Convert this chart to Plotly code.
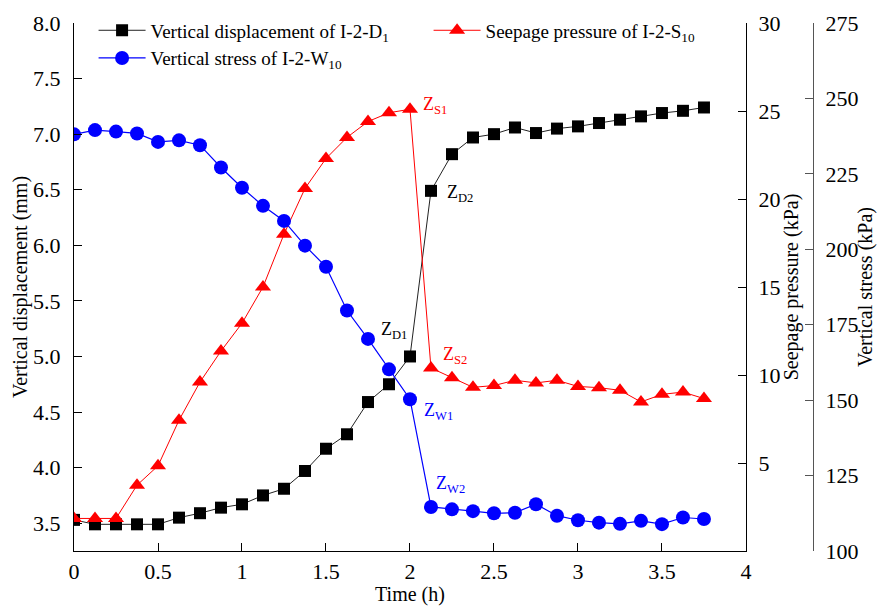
import plotly.graph_objects as go

time_h = [0, 0.125, 0.25, 0.375, 0.5, 0.625, 0.75, 0.875, 1.0, 1.125, 1.25, 1.375, 1.5, 1.625,
          1.75, 1.875, 2.0, 2.125, 2.25, 2.375, 2.5, 2.625, 2.75, 2.875, 3.0, 3.125, 3.25,
          3.375, 3.5, 3.625, 3.75]

displacement_mm = [3.53, 3.49, 3.49, 3.49, 3.49, 3.55, 3.59, 3.64, 3.67, 3.75, 3.81, 3.97, 4.17,
                   4.30, 4.59, 4.75, 5.00, 6.49, 6.82, 6.97, 7.00, 7.06, 7.01, 7.05, 7.07, 7.10,
                   7.13, 7.16, 7.19, 7.21, 7.24]

seepage_kpa = [1.85, 1.85, 1.85, 3.74, 4.84, 7.43, 9.6, 11.36, 12.94, 15.0, 18.0, 20.6, 22.3,
               23.5, 24.4, 24.9, 25.1, 10.4, 9.85, 9.3, 9.4, 9.7, 9.55, 9.7, 9.35, 9.28, 9.13,
               8.47, 8.9, 9.03, 8.66]

stress_kpa = [238.1, 239.5, 239.0, 238.4, 235.6, 236.1, 234.5, 227.1, 220.4, 214.4, 209.4, 201.2,
              194.2, 179.7, 170.3, 160.2, 150.3, 114.6, 113.8, 113.2, 112.5, 112.7, 115.5, 111.7,
              110.2, 109.4, 109.0, 110.0, 108.9, 111.1, 110.6]

names = ["Vertical displacement of I-2-D<sub>1</sub>",
         "Seepage pressure of I-2-S<sub>10</sub>",
         "Vertical stress of I-2-W<sub>10</sub>"]

x_ticks = [0, 0.5, 1, 1.5, 2, 2.5, 3, 3.5, 4]
y1_ticks = [3.5, 4.0, 4.5, 5.0, 5.5, 6.0, 6.5, 7.0, 7.5, 8.0]
y2_ticks = [5, 10, 15, 20, 25, 30]
y3_ticks = [100, 125, 150, 175, 200, 225, 250, 275]

FONT = "Liberation Serif"
TICKF = dict(family=FONT, size=22, color="black")
TITLEF = dict(family=FONT, size=20, color="black")

fig = go.Figure()
fig.add_trace(go.Scatter(x=time_h, y=displacement_mm, name=names[0], mode="lines+markers",
                         line=dict(color="#222222", width=1),
                         marker=dict(symbol="square", size=12, color="black"), yaxis="y"))
fig.add_trace(go.Scatter(x=time_h, y=seepage_kpa, name=names[1], mode="lines+markers",
                         line=dict(color="#ff0000", width=1),
                         marker=dict(symbol="triangle-up", size=14, color="#ff0000"), yaxis="y2"))
fig.add_trace(go.Scatter(x=time_h, y=stress_kpa, name=names[2], mode="lines+markers",
                         line=dict(color="#0000ff", width=1.2),
                         marker=dict(symbol="circle", size=14, color="#0000ff"), yaxis="y3"))

axis_common = dict(showgrid=False, zeroline=False, showline=True, linewidth=1.2,
                   ticks="inside", ticklen=8, tickwidth=1.2, tickfont=TICKF,
                   automargin=False)

fig.update_layout(
    width=877, height=606,
    margin=dict(l=74, r=20, t=22, b=55),
    paper_bgcolor="white", plot_bgcolor="white",
    font=dict(family=FONT, color="black"),
    showlegend=True,
    legend=dict(orientation="h", x=0.025, y=1.02, xanchor="left", yanchor="top",
                entrywidth=273, entrywidthmode="pixels", itemwidth=47,
                font=dict(family=FONT, size=19, color="black"),
                bgcolor="rgba(0,0,0,0)", traceorder="normal"),
    xaxis=dict(domain=[0, 0.8582], range=[0, 4], tickvals=x_ticks,
               linecolor="black", tickcolor="black", ticklabelstandoff=0,
               title=dict(text="Time (h)", font=TITLEF, standoff=9), **axis_common),
    yaxis=dict(range=[3.25, 8.0], tickvals=y1_ticks, tickformat=".1f",
               linecolor="black", tickcolor="black", ticklabelstandoff=8,
               title=dict(text="Vertical displacement (mm)", font=TITLEF, standoff=0),
               **axis_common),
    yaxis2=dict(range=[0, 30], tickvals=y2_ticks, overlaying="y", side="right", anchor="x",
                linecolor="black", tickcolor="black", ticklabelstandoff=7,
                title=dict(text="Seepage pressure (kPa)", font=TITLEF, standoff=0),
                **axis_common),
    yaxis3=dict(range=[100, 275], tickvals=y3_ticks, overlaying="y", side="right",
                anchor="free", position=0.9438,
                linecolor="#555555", tickcolor="#555555", ticklabelstandoff=7,
                title=dict(text="Vertical stress (kPa)", font=TITLEF, standoff=4),
                **axis_common),
)

AF = 18
ann = [
    dict(text="Z<sub>S1</sub>", x=time_h[16], y=seepage_kpa[16], yref="y2", color="#ff0000",
         xanchor="left", xshift=11, yshift=4),
    dict(text="Z<sub>D2</sub>", x=time_h[17], y=displacement_mm[17], yref="y", color="black",
         xanchor="left", xshift=14, yshift=-3),
    dict(text="Z<sub>D1</sub>", x=time_h[16], y=displacement_mm[16], yref="y", color="black",
         xanchor="right", xshift=-1, yshift=26),
    dict(text="Z<sub>S2</sub>", x=time_h[17], y=seepage_kpa[17], yref="y2", color="#ff0000",
         xanchor="left", xshift=10, yshift=12),
    dict(text="Z<sub>W1</sub>", x=time_h[16], y=stress_kpa[16], yref="y3", color="#0000ff",
         xanchor="left", xshift=12, yshift=-12),
    dict(text="Z<sub>W2</sub>", x=time_h[17], y=stress_kpa[17], yref="y3", color="#0000ff",
         xanchor="left", xshift=3, yshift=22),
]
for a in ann:
    fig.add_annotation(text=a["text"], x=a["x"], y=a["y"], xref="x", yref=a["yref"],
                       xanchor=a["xanchor"], yanchor="middle", xshift=a["xshift"],
                       yshift=a["yshift"], showarrow=False,
                       font=dict(family=FONT, size=AF, color=a["color"]))

fig.write_html("out.html")
